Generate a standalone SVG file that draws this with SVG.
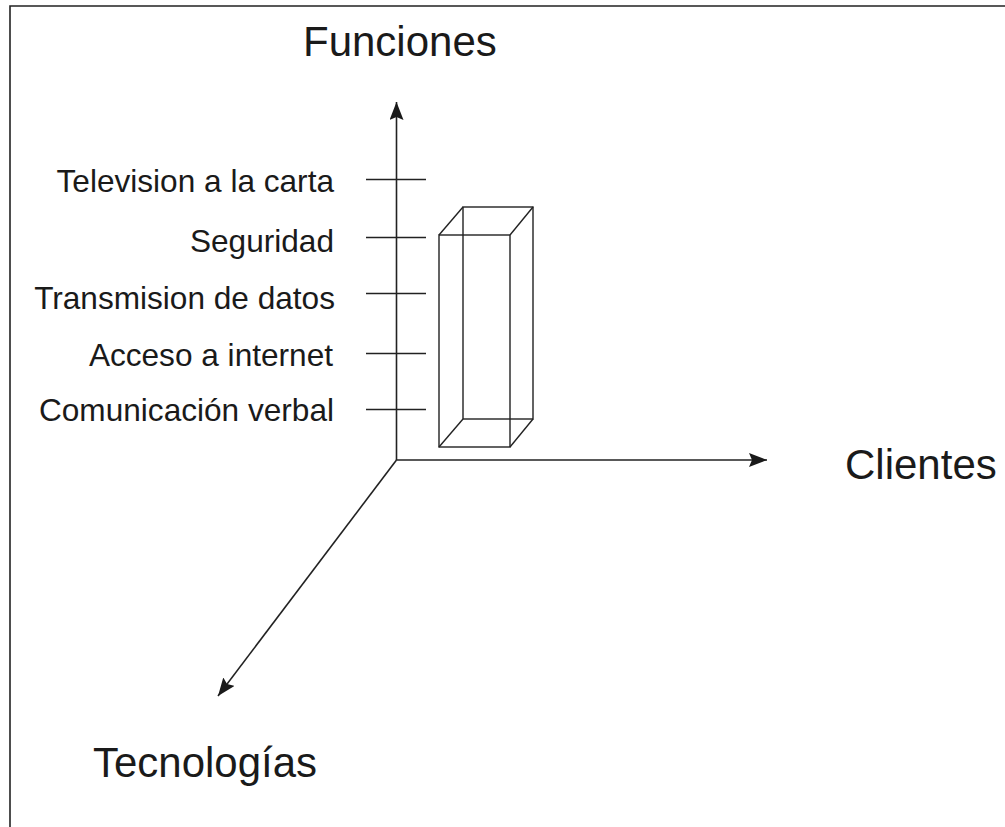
<svg xmlns="http://www.w3.org/2000/svg" width="1005" height="827" viewBox="0 0 1005 827">
  <style>
    .ln { stroke: #222; stroke-width: 1.6; fill: none; }
    .box { stroke: #222; stroke-width: 1.4; fill: none; }
    .lbl { font-family: "Liberation Sans", Arial, sans-serif; font-size: 31.6px; fill: #1a1a1a; text-anchor: end; }
    .axis { font-family: "Liberation Sans", Arial, sans-serif; font-size: 42px; fill: #1a1a1a; }
  </style>
  <defs>
    <marker id="arr" markerUnits="userSpaceOnUse" markerWidth="20" markerHeight="16" refX="18" refY="7" orient="auto">
      <path d="M0,0 L18,7 L0,14 L3,7 Z" fill="#1a1a1a"/>
    </marker>
  </defs>
  <rect x="0" y="0" width="1005" height="827" fill="#ffffff"/>
  <g id="frame">
    <path class="ln" d="M10,827 L10,6 L1005,6" stroke-width="2"/>
  </g>
  <g id="connectors">
    <line class="ln" x1="396.5" y1="460" x2="396.5" y2="102" marker-end="url(#arr)"/>
    <line class="ln" x1="396.5" y1="460" x2="767" y2="460" marker-end="url(#arr)"/>
    <line class="ln" x1="396.5" y1="460" x2="218" y2="696" marker-end="url(#arr)"/>
    <line class="ln" x1="366" y1="179.5" x2="426" y2="179.5"/>
    <line class="ln" x1="366" y1="237.5" x2="426" y2="237.5"/>
    <line class="ln" x1="366" y1="293.5" x2="426" y2="293.5"/>
    <line class="ln" x1="366" y1="353.5" x2="426" y2="353.5"/>
    <line class="ln" x1="366" y1="409.5" x2="426" y2="409.5"/>
  </g>
  <g id="box">
    <rect class="box" x="463" y="207" width="70" height="212"/>
    <rect class="box" x="439" y="235" width="71" height="212"/>
    <line class="box" x1="439" y1="235" x2="463" y2="207"/>
    <line class="box" x1="510" y1="235" x2="533" y2="207"/>
    <line class="box" x1="439" y1="447" x2="463" y2="419"/>
    <line class="box" x1="510" y1="447" x2="533" y2="419"/>
  </g>
  <g id="axis-funciones"><text class="axis" x="303" y="56">Funciones</text></g>
  <g id="axis-clientes"><text class="axis" x="845" y="479">Clientes</text></g>
  <g id="axis-tecnologias"><text class="axis" x="93" y="777" textLength="224" lengthAdjust="spacingAndGlyphs">Tecnologías</text></g>
  <g id="label-television"><text class="lbl" x="334" y="192">Television a la carta</text></g>
  <g id="label-seguridad"><text class="lbl" x="334" y="252">Seguridad</text></g>
  <g id="label-transmision"><text class="lbl" x="335" y="309">Transmision de datos</text></g>
  <g id="label-acceso"><text class="lbl" x="333" y="366">Acceso a internet</text></g>
  <g id="label-comunicacion"><text class="lbl" x="334" y="421">Comunicación verbal</text></g>
</svg>
